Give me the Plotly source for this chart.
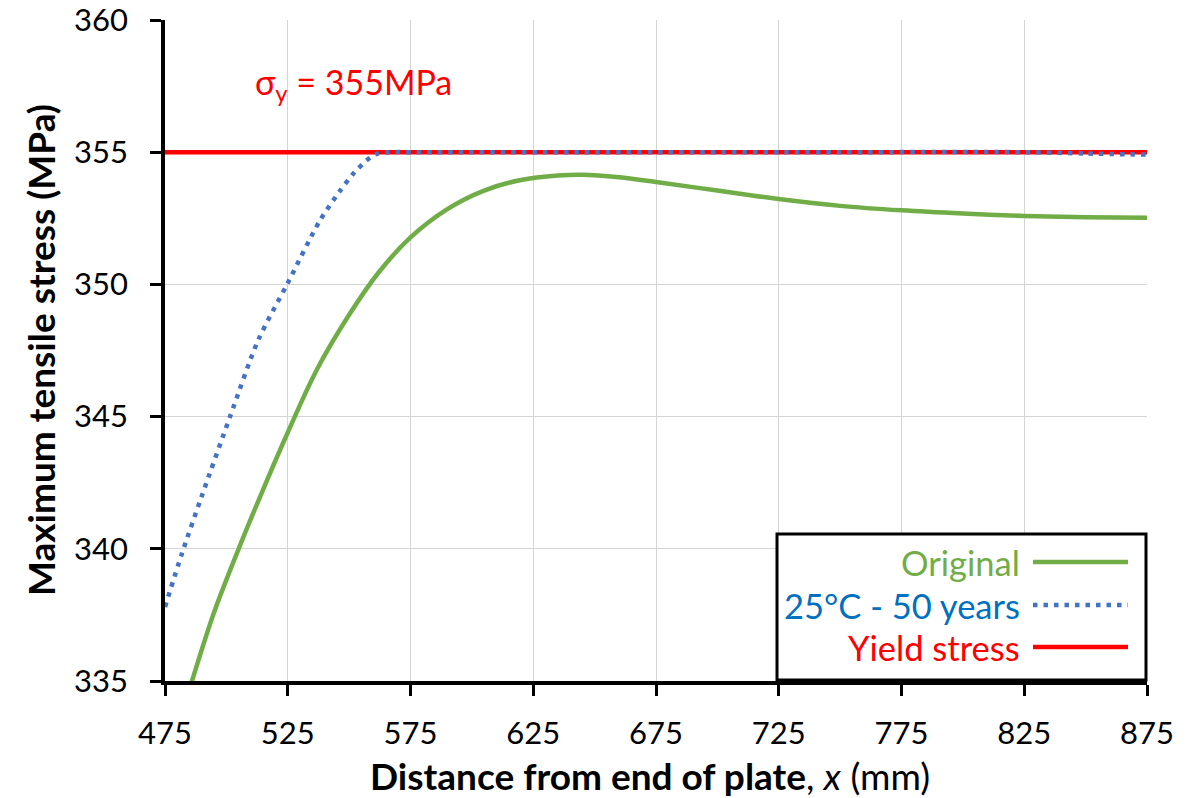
import plotly.graph_objects as go

# ---- data ----
orig_x = [475, 486, 495, 505, 515, 525, 537, 550, 562, 575, 590, 605, 620, 635, 645, 660, 675, 700, 725, 750, 775, 800, 825, 850, 875]
orig_y = [331.6, 335.0, 337.6, 340.0, 342.25, 344.4, 346.8, 348.85, 350.45, 351.78, 352.85, 353.55, 353.95, 354.12, 354.15, 354.05, 353.87, 353.55, 353.23, 352.97, 352.80, 352.68, 352.59, 352.54, 352.52]

aged_x = [475, 482, 490, 501.5, 513, 525, 538, 546, 552, 557, 561, 566, 575, 650, 750, 825, 850, 875]
aged_y = [337.8, 339.85, 342.0, 345.0, 347.9, 350.05, 352.4, 353.5, 354.22, 354.68, 354.93, 355.0, 355.0, 355.0, 355.0, 355.0, 354.95, 354.91]

yield_x = [475, 875]
yield_y = [355, 355]

x_ticks = [475, 525, 575, 625, 675, 725, 775, 825, 875]
y_ticks = [335, 340, 345, 350, 355, 360]

legend_labels = ["Original", "25°C - 50 years", "Yield stress"]

GREEN = "#70AD47"
BLUE = "#4472C4"
BLUE_TXT = "#0070C0"
RED = "#FF0000"
FONT = "Lato"

fig = go.Figure()
fig.add_trace(go.Scatter(x=orig_x, y=orig_y, mode="lines",
                         line=dict(color=GREEN, width=4.5, shape="spline", smoothing=1.0), name=legend_labels[0]))
fig.add_trace(go.Scatter(x=yield_x, y=yield_y, mode="lines",
                         line=dict(color=RED, width=4.5), name=legend_labels[2]))
fig.add_trace(go.Scatter(x=aged_x, y=aged_y, mode="lines",
                         line=dict(color=BLUE, width=4.5, dash="4.5px,6px", shape="spline", smoothing=0.8), name=legend_labels[1]))

# page has an 8px body margin: figure is sized to sit exactly in the 1196x798 window
OFF = 8
W, H = 1196 - OFF, 798 - OFF
# plot area in screen pixels
L, R, T, B = 165, 1147, 20, 681

def px(xp):
    return (xp - L) / (R - L)

def py(yp):
    return (B - yp) / (B - T)

fig.update_layout(
    width=W, height=H,
    margin=dict(l=L - OFF, r=W - (R - OFF), t=T - OFF, b=H - (B - OFF), autoexpand=False),
    paper_bgcolor="white", plot_bgcolor="white",
    showlegend=False,
    font=dict(family=FONT, size=31, color="black"),
)
axis_common = dict(
    showgrid=True, gridcolor="#D4D4D4", gridwidth=1,
    showline=True, linecolor="black", linewidth=3.5,
    ticks="outside", ticklen=11, tickwidth=3, tickcolor="black",
    zeroline=False, automargin=False, ticklabeloverflow="allow",
    tickfont=dict(family=FONT, size=31, color="black"),
)
fig.update_xaxes(range=[475, 875], tickvals=x_ticks, ticktext=[str(v) for v in x_ticks],
                 ticklabelstandoff=11, **axis_common)
fig.update_yaxes(range=[335, 360], tickvals=y_ticks, ticktext=[str(v) for v in y_ticks],
                 ticklabelstandoff=16, **axis_common)

# axis titles
fig.add_annotation(xref="paper", yref="paper", x=px(650), y=py(775), xanchor="center", yanchor="middle",
                   text="<b>Distance from end of plate</b>, <i>x</i> (mm)", showarrow=False,
                   font=dict(family=FONT, size=37, color="black"))
fig.add_annotation(xref="paper", yref="paper", x=px(40), y=py(350), xanchor="center", yanchor="middle",
                   text="<b>Maximum tensile stress (MPa)</b>", textangle=-90, showarrow=False,
                   font=dict(family=FONT, size=37, color="black"))

# sigma_y label
fig.add_annotation(xref="paper", yref="paper", x=px(353), y=py(84), xanchor="center", yanchor="middle",
                   text="σ<sub>y</sub> = 355MPa", showarrow=False,
                   font=dict(family=FONT, size=34, color=RED))

# clipped label fragment at the left edge (as in the reference)
fig.add_annotation(xref="paper", yref="paper", x=px(10), y=py(740), xanchor="right", yanchor="middle",
                   text="5", showarrow=False, font=dict(family=FONT, size=31, color="black"))

# custom legend (text right-aligned, sample on the right)
fig.add_shape(type="rect", xref="paper", yref="paper", x0=px(777), x1=px(1146), y0=py(680), y1=py(534),
              line=dict(color="black", width=3), fillcolor="white", layer="above")
leg_rows = [(562, GREEN, GREEN, None), (605, BLUE_TXT, BLUE, "4.5px,6px"), (647, RED, RED, None)]
for label, (yy, tcol, lcol, dash) in zip(legend_labels, leg_rows):
    fig.add_annotation(xref="paper", yref="paper", x=px(1022), y=py(yy), xanchor="right", yanchor="middle",
                       text=label, showarrow=False, font=dict(family=FONT, size=34.5, color=tcol))
    ln = dict(color=lcol, width=4.5)
    if dash:
        ln["dash"] = dash
    fig.add_shape(type="line", xref="paper", yref="paper", x0=px(1033), x1=px(1128), y0=py(yy), y1=py(yy),
                  line=ln, layer="above")

fig.write_html("out.html")
